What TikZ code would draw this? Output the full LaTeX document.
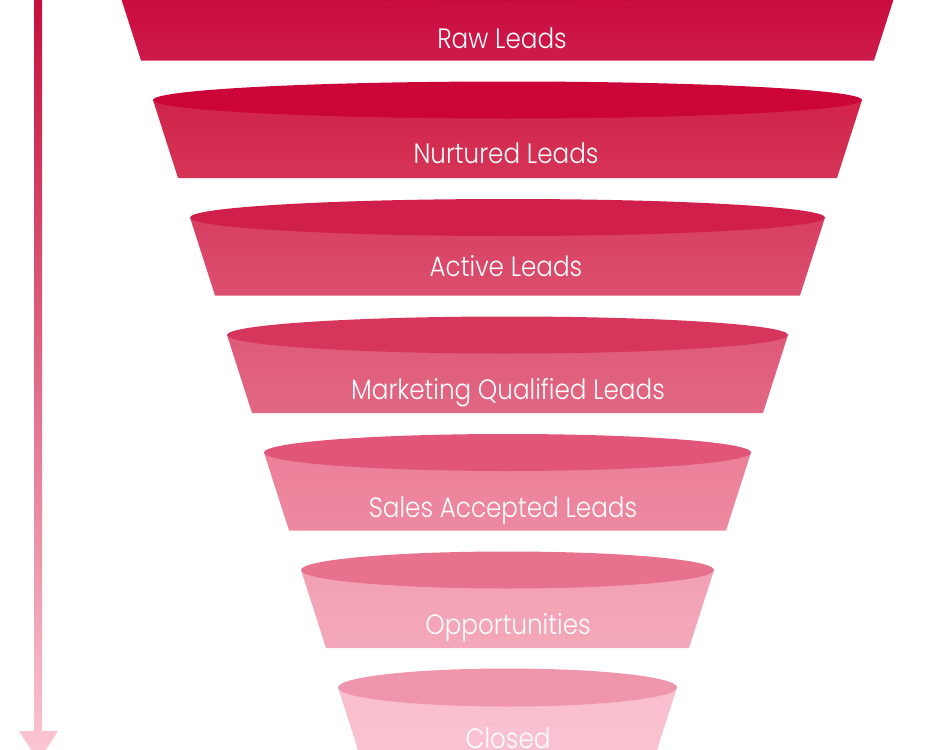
\documentclass[tikz,border=0pt]{standalone}
\usepackage{fontspec}
\usepackage{tikz}
\newfontfamily\funnelfont{Poppins Light}[FakeStretch=0.88]
% layer colours: body and rim
\definecolor{bodyA}{HTML}{C9073B}\definecolor{rimA}{HTML}{C00A3A}
\definecolor{bodyB}{HTML}{D12349}\definecolor{rimB}{HTML}{CB0538}
\definecolor{bodyC}{HTML}{D83F62}\definecolor{rimC}{HTML}{D01F4A}
\definecolor{bodyD}{HTML}{DF5A78}\definecolor{rimD}{HTML}{D6365C}
\definecolor{bodyE}{HTML}{EB7F98}\definecolor{rimE}{HTML}{E05578}
\definecolor{bodyF}{HTML}{F3A0B4}\definecolor{rimF}{HTML}{E8728E}
\definecolor{bodyG}{HTML}{FABECE}\definecolor{rimG}{HTML}{F096AC}
\definecolor{arrowtop}{HTML}{C4103C}\definecolor{arrowbot}{HTML}{FCC8D5}
\tikzset{label text/.style={text=white,font=\funnelfont\fontsize{28}{30}\selectfont,anchor=base,inner sep=0pt}}

\begin{document}
\begin{tikzpicture}[x=1pt,y=-1pt,line join=round]
        \useasboundingbox (0,0) rectangle (938,750);
        \clip (0,0) rectangle (938,750);
        % arrow on the left
        \shade[top color=arrowtop,bottom color=arrowbot] (34,0) -- (42,0) -- (42,731) -- (58,731) -- (38.5,761) -- (19,731) -- (34,731) -- cycle;
        % layers of the funnel
        \shade[top color=bodyA,bottom color=bodyA!92!white] (116,-17.5) -- (899,-17.5) -- (874,60.5) -- (141,60.5) -- cycle;
        \fill[rimA] (507.5,-17.5) ellipse [x radius=391.5,y radius=18.5];
        \node[label text] (raw) at (502,48) {Raw Leads};
        \shade[top color=bodyB,bottom color=bodyB!92!white] (153,100) -- (862,100) -- (837,178) -- (178,178) -- cycle;
        \fill[rimB] (507.5,100) ellipse [x radius=354.5,y radius=18.5];
        \node[label text] (nurtured) at (506,163) {Nurtured Leads};
        \shade[top color=bodyC,bottom color=bodyC!92!white] (190,217.5) -- (825,217.5) -- (800,295.5) -- (215,295.5) -- cycle;
        \fill[rimC] (507.5,217.5) ellipse [x radius=317.5,y radius=18.5];
        \node[label text] (active) at (506,276) {Active Leads};
        \shade[top color=bodyD,bottom color=bodyD!92!white] (227,335) -- (788,335) -- (763,413) -- (252,413) -- cycle;
        \fill[rimD] (507.5,335) ellipse [x radius=280.5,y radius=18.5];
        \node[label text] (mql) at (508,399) {Marketing Qualified Leads};
        \shade[top color=bodyE,bottom color=bodyE!92!white] (264,452.5) -- (751,452.5) -- (726,530.5) -- (289,530.5) -- cycle;
        \fill[rimE] (507.5,452.5) ellipse [x radius=243.5,y radius=18.5];
        \node[label text] (sal) at (503,517) {Sales Accepted Leads};
        \shade[top color=bodyF,bottom color=bodyF!92!white] (301,570) -- (714,570) -- (689,648) -- (326,648) -- cycle;
        \fill[rimF] (507.5,570) ellipse [x radius=206.5,y radius=18.5];
        \node[label text] (opp) at (508,634) {Opportunities};
        \shade[top color=bodyG,bottom color=bodyG!92!white] (338,687.5) -- (677,687.5) -- (652,765.5) -- (363,765.5) -- cycle;
        \fill[rimG] (507.5,687.5) ellipse [x radius=169.5,y radius=19];
        \node[label text] (closed) at (508,748) {Closed};
      \end{tikzpicture}
\end{document}
